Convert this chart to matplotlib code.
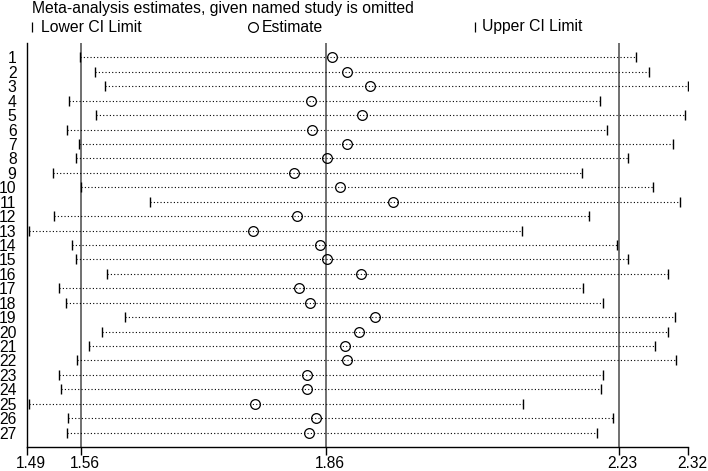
import numpy as np
import matplotlib
matplotlib.use('Agg')
import matplotlib.pyplot as plt
import matplotlib.transforms as mtransforms
from matplotlib.lines import Line2D

# Study omitted (row labels) and the pooled estimate with its CI when each one is left out
studies = [str(i) for i in range(1, 28)]
lower = [1.554, 1.573, 1.586, 1.540, 1.574, 1.537, 1.552, 1.549, 1.520, 1.555,
         1.642, 1.521, 1.490, 1.544, 1.549, 1.588, 1.528, 1.536, 1.611, 1.581,
         1.565, 1.550, 1.528, 1.530, 1.490, 1.539, 1.538]
estimate = [1.872, 1.890, 1.919, 1.845, 1.909, 1.846, 1.890, 1.865, 1.824, 1.882,
            1.949, 1.828, 1.772, 1.856, 1.865, 1.908, 1.830, 1.844, 1.926, 1.906,
            1.888, 1.891, 1.840, 1.840, 1.774, 1.851, 1.843]
upper = [2.255, 2.272, 2.321, 2.209, 2.317, 2.218, 2.302, 2.245, 2.187, 2.277,
         2.311, 2.196, 2.111, 2.231, 2.245, 2.296, 2.188, 2.213, 2.304, 2.296,
         2.279, 2.305, 2.214, 2.211, 2.112, 2.226, 2.206]

# overall result (all studies)
overall_lower = 1.555
overall_est = 1.864
overall_upper = 2.233

axis_min = 1.487
axis_max = 2.321
tick_vals = [axis_min, overall_lower, overall_est, overall_upper, axis_max]
tick_labels = ['1.49', '1.56', '1.86', '2.23', '2.32']

plt.rcParams['font.family'] = ['Liberation Sans', 'DejaVu Sans']
fs = 11.3

fig = plt.figure(figsize=(7.08, 4.71), dpi=100)
ax = fig.add_axes([0.0381, 0.051, 0.9341, 0.8577])

rows = np.arange(1, len(studies) + 1)

#reference lines for the overall estimate and CI
for v in [overall_lower, overall_est, overall_upper]:
    ax.axvline(v, color='#707070', lw=1.4, zorder=1)

#dotted CI lines
for r, lo, hi in zip(rows, lower, upper):
    ax.plot([lo, hi], [r, r], color='black', lw=0.8, linestyle=(0, (1, 2)), zorder=2)

ax.plot(lower, rows, linestyle='none', marker='|', color='black', markersize=7.5, mew=1.0, zorder=3)
ax.plot(upper, rows, linestyle='none', marker='|', color='black', markersize=7.5, mew=1.0, zorder=3)
ax.plot(estimate, rows, linestyle='none', marker='o', markerfacecolor='none',
        markeredgecolor='black', markersize=7, mew=0.9, zorder=4)

ax.set_xlim(axis_min, axis_max)
ax.set_ylim(28, 0)
ax.set_xticks(tick_vals)
ax.set_xticklabels(tick_labels, fontsize=11.2)
ax.tick_params(axis='x', length=6, width=1.0, pad=0.5)
# labels sit a little right of their ticks in the original
shift = mtransforms.ScaledTranslation(4 / 100, 0, fig.dpi_scale_trans)
for lab in ax.get_xticklabels():
    lab.set_transform(lab.get_transform() + shift)
ax.set_yticks(rows)
ax.set_yticklabels(studies, fontsize=fs)
ax.tick_params(axis='y', length=0, pad=7.5)

ax.spines['top'].set_visible(False)
ax.spines['right'].set_visible(False)
ax.spines['left'].set_linewidth(1.0)
ax.spines['bottom'].set_linewidth(1.0)

#title and legend row
fig.text(32 / 708, 1 - 8 / 471, 'Meta-analysis estimates, given named study is omitted',
         fontsize=fs, va='center', ha='left')
ly = 1 - 27 / 471
fig.add_artist(Line2D([32 / 708], [ly], marker='|', color='black', markersize=7, mew=0.9,
                      transform=fig.transFigure))
fig.text(41 / 708, ly, 'Lower CI Limit', fontsize=fs, va='center', ha='left')
fig.add_artist(Line2D([253 / 708], [ly], marker='o', markerfacecolor='none', markeredgecolor='black',
                      markersize=7, mew=0.9, transform=fig.transFigure))
fig.text(262 / 708, ly, 'Estimate', fontsize=fs, va='center', ha='left')
fig.add_artist(Line2D([475 / 708], [ly], marker='|', color='black', markersize=7, mew=0.9,
                      transform=fig.transFigure))
fig.text(482 / 708, ly, 'Upper CI Limit', fontsize=fs, va='center', ha='left')

fig.savefig('out.png', dpi=100)
